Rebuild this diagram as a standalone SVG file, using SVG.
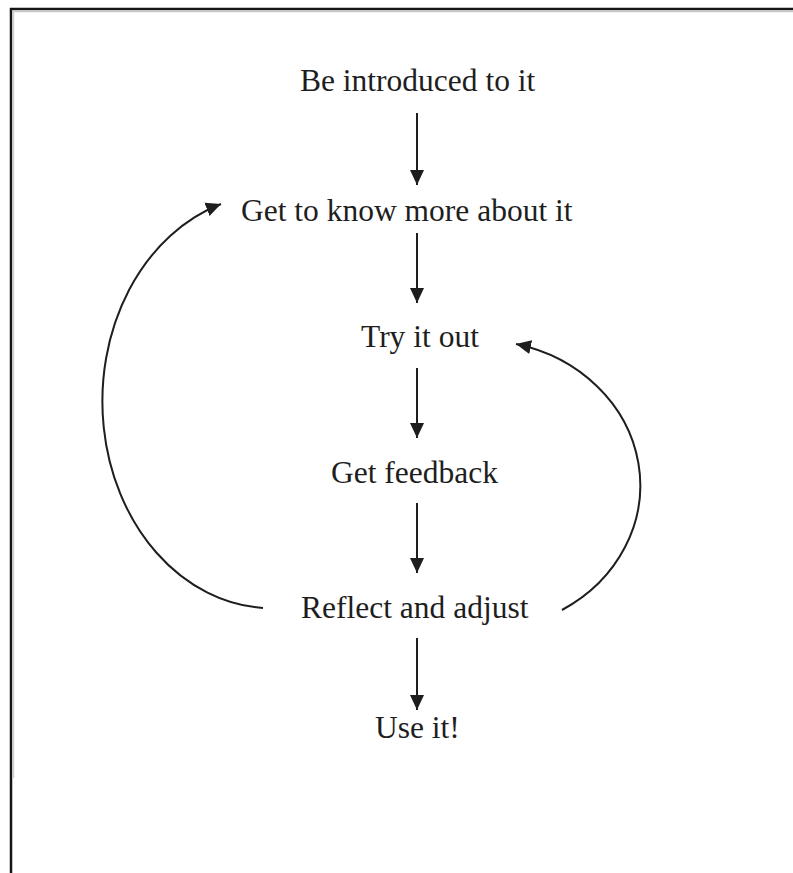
<svg xmlns="http://www.w3.org/2000/svg" width="793" height="873" viewBox="0 0 793 873">
<style>
  .lbl { font-family: "Liberation Serif", "Times New Roman", serif; font-size: 31.5px; fill: #1e1e1e; }
  .edge { fill: none; stroke: #1e1e1e; stroke-width: 2; }
  .border { stroke: #151515; stroke-width: 2.5; fill: none; }
</style>
<defs>
  <marker id="arrow" markerUnits="userSpaceOnUse" markerWidth="16" markerHeight="16" viewBox="0 0 16 16" refX="15" refY="8" orient="auto">
    <path d="M0,1 L15,8 L0,15 Z" fill="#1e1e1e"/>
  </marker>
</defs>
<rect x="0" y="0" width="793" height="873" fill="#ffffff"/>
<g id="frame">
  <line class="border" x1="10" y1="9" x2="793" y2="9"/>
  <line class="border" x1="11" y1="8" x2="11" y2="873"/>
  <line x1="12" y1="11.5" x2="793" y2="11.5" stroke="#c8c8c8" stroke-width="1.5"/>
  <line x1="13.5" y1="11" x2="13.5" y2="778" stroke="#d0d0d0" stroke-width="1.5"/>
</g>
<g id="connectors">
  <line class="edge" x1="417" y1="113" x2="417" y2="185" marker-end="url(#arrow)"/>
  <line class="edge" x1="417" y1="233" x2="417" y2="303" marker-end="url(#arrow)"/>
  <line class="edge" x1="417" y1="368" x2="417" y2="438" marker-end="url(#arrow)"/>
  <line class="edge" x1="417" y1="503" x2="417" y2="573" marker-end="url(#arrow)"/>
  <line class="edge" x1="417" y1="638" x2="417" y2="710" marker-end="url(#arrow)"/>
  <path class="edge" d="M263,608 A170,207 0 0 1 221,204" marker-end="url(#arrow)"/>
  <path class="edge" d="M562,610 A160,145 0 0 0 516,344" marker-end="url(#arrow)"/>
</g>
<g id="node-introduced"><text class="lbl" x="300" y="91">Be introduced to it</text></g>
<g id="node-know"><text class="lbl" x="241" y="221">Get to know more about it</text></g>
<g id="node-try"><text class="lbl" x="361" y="347">Try it out</text></g>
<g id="node-feedback"><text class="lbl" x="331" y="483">Get feedback</text></g>
<g id="node-reflect"><text class="lbl" x="301" y="618">Reflect and adjust</text></g>
<g id="node-use"><text class="lbl" x="375" y="738">Use it!</text></g>
</svg>
